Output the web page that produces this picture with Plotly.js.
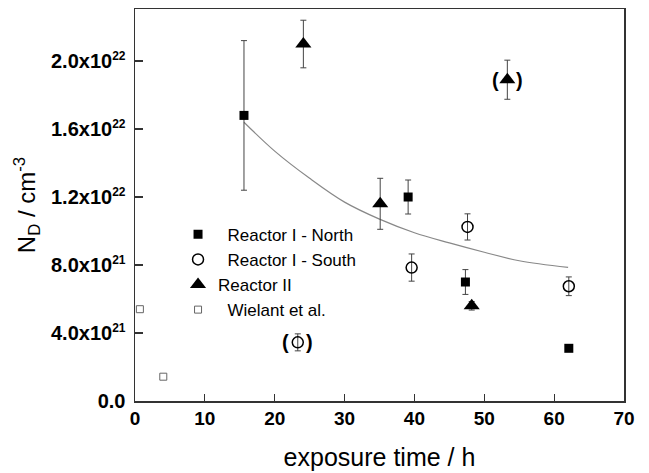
<!DOCTYPE html>
<html>
<head>
<meta charset="utf-8">
<script src="https://cdn.plot.ly/plotly-3.0.1.min.js"></script>
<style>html,body{margin:0;padding:0;background:#fff;}#chart{width:649px;height:473px;}</style>
</head>
<body>
<div id="chart"></div>
<script>
// Reactor I - North (filled squares)
const northX = [15.6, 39.1, 47.3, 62.1];
const northY = [1.68e22, 1.20e22, 7.0e21, 3.1e21];
const northErr = [4.4e21, 1.0e21, 0.73e21, 0];

// Reactor I - South (open circles); the 23.3 h point is shown in brackets
const southX = [23.3, 39.6, 47.6, 62.1];
const southY = [3.45e21, 7.85e21, 1.024e22, 6.75e21];
const southErr = [0.5e21, 0.8e21, 0.77e21, 0.55e21];

// Reactor II (filled triangles); the 53.3 h point is shown in brackets
const r2X = [24.1, 35.1, 48.2, 53.3];
const r2Y = [2.10e22, 1.16e22, 5.6e21, 1.89e22];
const r2Err = [1.4e21, 1.5e21, 0.25e21, 1.15e21];

// Wielant et al. (small open squares)
const wielX = [0.7, 4.05];
const wielY = [5.4e21, 1.43e21];

// fitted curve
const fitX = [15.6, 20, 25, 30, 35, 40, 45, 50, 55, 62];
const fitY = [1.64e22, 1.47e22, 1.31e22, 1.17e22, 1.07e22, 9.9e21, 9.3e21, 8.75e21, 8.25e21, 7.86e21];

// bracketed points
const bracketX = [23.3, 53.3];
const bracketY = [3.45e21, 1.89e22];

// legend names
const names = ['\u00a0\u00a0Reactor I - North', '\u00a0\u00a0Reactor I - South', 'Reactor II', '\u00a0\u00a0Wielant et al.'];

// axis ticks
const xTicks = [0, 10, 20, 30, 40, 50, 60, 70];
const yTickVals = [0, 4e21, 8e21, 1.2e22, 1.6e22, 2.0e22];
const yMant = ['0.0', '4.0x10', '8.0x10', '1.2x10', '1.6x10', '2.0x10'];
const yExp = ['', '21', '21', '22', '22', '22'];
const yTickText = yMant.map((m, i) => yExp[i] ? m + '<sup><span style="font-size:12px">' + yExp[i] + '</span></sup>' : m);

const errStyle = (arr) => ({type: 'data', array: arr, visible: true, color: '#444', thickness: 1, width: 3});

const traces = [
  {x: fitX, y: fitY, mode: 'lines', line: {color: '#888', width: 1.2, shape: 'spline'}, showlegend: false, hoverinfo: 'skip'},
  {x: northX, y: northY, mode: 'markers', name: names[0],
   marker: {symbol: 'square', size: 9, color: '#000'}, error_y: errStyle(northErr)},
  {x: southX, y: southY, mode: 'markers', name: names[1],
   marker: {symbol: 'circle-open', size: 11, color: '#000', line: {width: 1.5, color: '#000'}}, error_y: errStyle(southErr)},
  {x: r2X, y: r2Y, mode: 'markers', name: names[2],
   marker: {symbol: 'triangle-up', size: 14, color: '#000'}, error_y: errStyle(r2Err)},
  {x: wielX, y: wielY, mode: 'markers', name: names[3], cliponaxis: false,
   marker: {symbol: 'square-open', size: 7, color: '#666', line: {width: 1, color: '#666'}}}
];

const annotations = [];
for (let i = 0; i < bracketX.length; i++) {
  annotations.push({x: bracketX[i], y: bracketY[i], text: '(', showarrow: false, xshift: -12, font: {size: 20, color: '#000', weight: 'bold'}});
  annotations.push({x: bracketX[i], y: bracketY[i], text: ')', showarrow: false, xshift: 12, font: {size: 20, color: '#000', weight: 'bold'}});
}

const layout = {
  width: 649, height: 473,
  margin: {l: 135, r: 25, t: 9, b: 72},
  paper_bgcolor: '#fff', plot_bgcolor: '#fff',
  font: {family: 'Liberation Sans, Arial, sans-serif', color: '#000'},
  showlegend: true,
  legend: {x: 0.088, y: 0.47, xanchor: 'left', yanchor: 'top', bgcolor: 'rgba(0,0,0,0)', borderwidth: 0,
           font: {size: 17, color: '#000'}},
  xaxis: {range: [0, 70], tickvals: xTicks, ticks: 'inside', ticklen: 7, tickwidth: 1.2, tickcolor: '#333',
          showline: true, linecolor: '#333', linewidth: 1.5, mirror: true, showgrid: false, zeroline: false,
          tickfont: {size: 19, weight: 'bold'}, ticklabelstandoff: 0,
          title: {text: 'exposure time / h', font: {size: 25}, standoff: 20}},
  yaxis: {range: [0, 2.306e22], tickvals: yTickVals, ticktext: yTickText, ticks: 'inside', ticklen: 8, tickwidth: 1.2, tickcolor: '#333',
          showline: true, linecolor: '#333', linewidth: 1.5, mirror: true, showgrid: false, zeroline: false,
          tickfont: {size: 20, weight: 'bold'}, ticklabelstandoff: 4,
          title: {text: 'N<sub>D</sub> / cm<sup>-3</sup>', font: {size: 24}, standoff: 8}},
  annotations: annotations
};

Plotly.newPlot('chart', traces, layout, {displayModeBar: false, staticPlot: true});
</script>
</body>
</html>
